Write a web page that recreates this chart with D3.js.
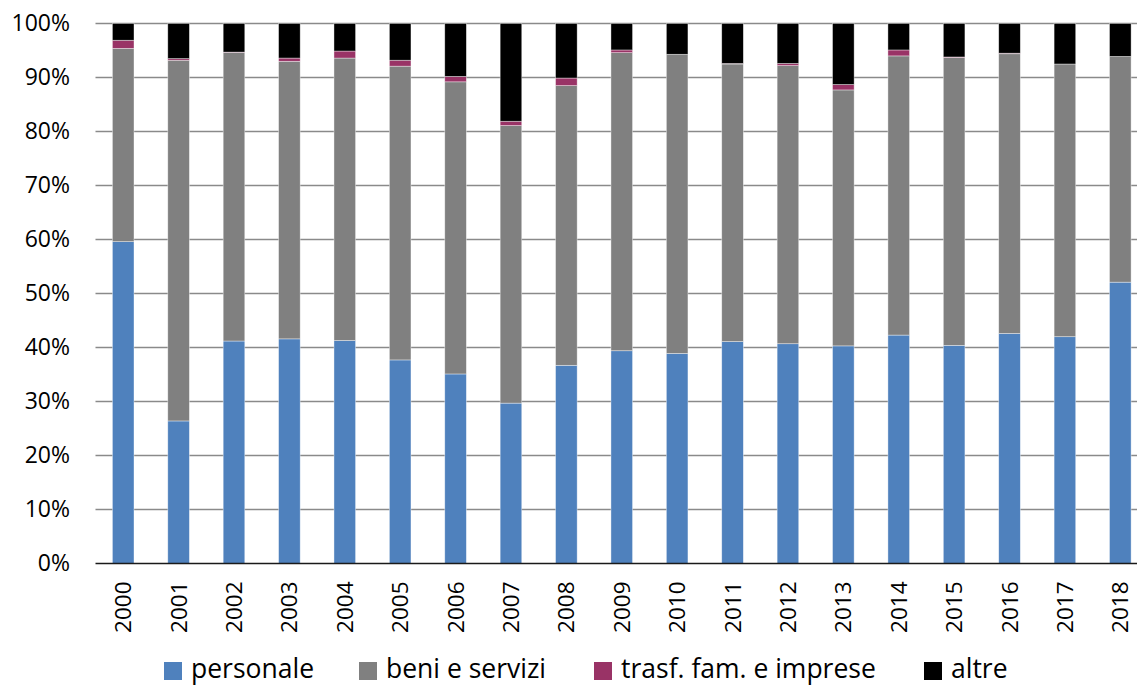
<!DOCTYPE html>
<html>
<head>
<meta charset="utf-8">
<script src="https://cdn.jsdelivr.net/npm/d3@7"></script>
<style>
  html, body { margin: 0; padding: 0; background: #fff; }
  svg { display: block; }
  text { font-family: "Open Sans", "Liberation Sans", sans-serif; fill: #000; }
</style>
</head>
<body>
<svg id="chart" width="1137" height="686"></svg>
<script>
// Composizione percentuale della spesa, 2000-2018
const years = ["2000","2001","2002","2003","2004","2005","2006","2007","2008","2009",
               "2010","2011","2012","2013","2014","2015","2016","2017","2018"];
const personale = [59.6, 26.4, 41.2, 41.6, 41.3, 37.7, 35.1, 29.7, 36.7, 39.4,
                   38.9, 41.1, 40.7, 40.3, 42.3, 40.4, 42.6, 42.0, 52.1];
const beniServizi = [35.8, 66.8, 53.4, 51.4, 52.3, 54.4, 54.1, 51.4, 51.8, 55.2,
                     55.4, 51.4, 51.5, 47.4, 51.7, 53.3, 51.8, 50.5, 41.8];
const trasferimenti = [1.5, 0.3, 0.1, 0.6, 1.3, 1.1, 1.0, 0.8, 1.4, 0.5,
                       0.0, 0.1, 0.4, 1.0, 1.1, 0.1, 0.1, 0.0, 0.0];
const altre = years.map((y, i) => +(100 - personale[i] - beniServizi[i] - trasferimenti[i]).toFixed(1));
const seriesNames = ["personale", "beni e servizi", "trasf. fam. e imprese", "altre"];
const yTicks = [0, 10, 20, 30, 40, 50, 60, 70, 80, 90, 100];

const colors = ["#4f81bd", "#808080", "#993366", "#000000"];
const keys = ["personale", "beni", "trasf", "altre"];

const rows = years.map((y, i) => ({
  year: y, personale: personale[i], beni: beniServizi[i], trasf: trasferimenti[i], altre: altre[i]
}));

const svg = d3.select("#chart");
const x = d3.scaleBand().domain(years).range([95.5, 1148]).paddingInner(0.61).paddingOuter(0.305);
const y = d3.scaleLinear().domain([0, 100]).range([563.5, 23.5]);

// gridlines
svg.append("g")
  .selectAll("line")
  .data(yTicks.filter(t => t > 0))
  .join("line")
  .attr("x1", 95.5).attr("x2", 1137)
  .attr("y1", d => y(d)).attr("y2", d => y(d))
  .attr("stroke", "#8a8a8a").attr("stroke-width", 1.3);

// stacked bars
const stacked = d3.stack().keys(keys)(rows);
svg.append("g")
  .selectAll("g")
  .data(stacked)
  .join("g")
  .attr("fill", (d, i) => colors[i])
  .selectAll("rect")
  .data(d => d)
  .join("rect")
  .attr("x", d => x(d.data.year))
  .attr("width", x.bandwidth())
  .attr("y", d => y(d[1]))
  .attr("height", d => Math.max(0, y(d[0]) - y(d[1])))
  .attr("stroke", "#ffffff").attr("stroke-opacity", 0.55).attr("stroke-width", 0.7);

// y axis labels
const yAxis = d3.axisLeft(y).tickValues(yTicks).tickFormat(d => d + "%").tickSize(0).tickPadding(0);
const yg = svg.append("g").attr("transform", "translate(70,0)").call(yAxis);
yg.select(".domain").remove();
yg.selectAll("text").attr("font-size", "23px").attr("fill", "#000")
  .style("font-family", "'Open Sans', sans-serif");

// baseline
svg.append("line")
  .attr("x1", 95.5).attr("x2", 1137)
  .attr("y1", y(0)).attr("y2", y(0))
  .attr("stroke", "#1a1a1a").attr("stroke-width", 1.3);

// x axis labels (rotated)
const xAxis = d3.axisBottom(x).tickSize(0).tickPadding(0);
const xg = svg.append("g").attr("transform", `translate(0,${y(0)})`).call(xAxis);
xg.select(".domain").remove();
xg.selectAll("text")
  .attr("font-size", "22.5px").attr("fill", "#000")
  .style("font-family", "'Open Sans', sans-serif")
  .attr("text-anchor", "end")
  .attr("transform", "rotate(-90)")
  .attr("x", -18).attr("y", 0).attr("dy", "0.36em");

// legend
const legendX = [164, 359, 594, 924];
const lg = svg.append("g").selectAll("g").data(seriesNames).join("g")
  .attr("transform", (d, i) => `translate(${legendX[i]},0)`);
lg.append("rect").attr("x", 0).attr("y", 662).attr("width", 18).attr("height", 18)
  .attr("fill", (d, i) => colors[i]);
lg.append("text").attr("x", 27).attr("y", 678).attr("font-size", "26.5px").text(d => d);
</script>
</body>
</html>
